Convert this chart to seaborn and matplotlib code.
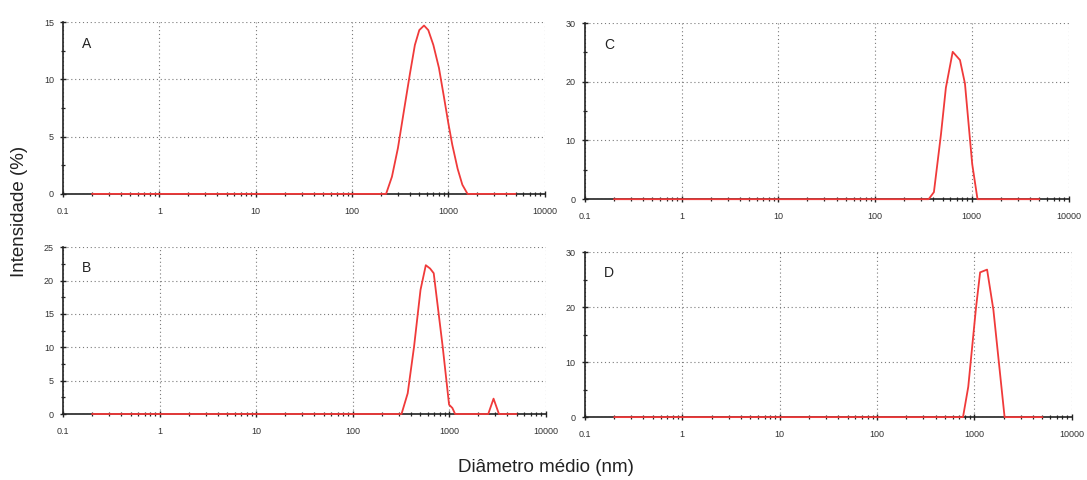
import numpy as np
import pandas as pd
import matplotlib
matplotlib.use("Agg")
import matplotlib.pyplot as plt
import matplotlib.ticker as mticker
import seaborn as sns

# ==========================
# Data
# ==========================

size_A = [0.2, 226, 260, 300, 350, 400, 450, 500, 560, 620, 700, 800, 900, 1000, 1100, 1250, 1400, 1585, 5000]
int_A = [0, 0, 1.5, 4.0, 7.5, 10.5, 13.0, 14.3, 14.7, 14.3, 13.0, 11.0, 8.5, 6.2, 4.3, 2.2, 0.8, 0, 0]

size_B = [0.2, 321, 372, 433, 505, 573, 635, 692, 857, 998, 1080, 1153, 2541, 2884, 3281, 5000]
int_B = [0, 0, 3.1, 10.1, 18.6, 22.3, 21.8, 21.1, 10.1, 1.4, 0.9, 0, 0, 2.3, 0, 0]

size_C = [0.2, 358, 406, 480, 540, 635, 755, 850, 1010, 1146, 5000]
int_C = [0, 0, 1.2, 11.0, 19.0, 25.1, 23.7, 19.7, 6.0, 0, 0]

size_D = [0.2, 764, 865, 1038, 1145, 1350, 1567, 2042, 5000]
int_D = [0, 0, 5.5, 19.8, 26.3, 26.8, 19.5, 0, 0]

panels = ["A", "B", "C", "D"]
y_max = {"A": 15, "B": 25, "C": 30, "D": 30}
y_step = {"A": 5, "B": 5, "C": 10, "D": 10}

x_ticks = [0.1, 1, 10, 100, 1000, 10000]
x_tick_labels = ["0.1", "1", "10", "100", "1000", "10000"]

frames = []
for name, xs, ys in [("A", size_A, int_A), ("B", size_B, int_B),
                     ("C", size_C, int_C), ("D", size_D, int_D)]:
    frames.append(pd.DataFrame({"panel": name, "size": xs, "intensity": ys}))
data = pd.concat(frames, ignore_index=True)

# ==========================
# Style
# ==========================

sns.set_style("white")
plt.rcParams["font.family"] = ["Liberation Sans", "DejaVu Sans"]

fig = plt.figure(figsize=(10.87, 4.8), dpi=100)

boxes = {
    "A": [0.058, 0.596, 0.443, 0.358],
    "C": [0.538, 0.585, 0.445, 0.367],
    "B": [0.058, 0.1375, 0.444, 0.3475],
    "D": [0.538, 0.131, 0.448, 0.344],
}

for name in panels:
    ax = fig.add_axes(boxes[name])
    sub = data[data["panel"] == name]

    ax.set_xscale("log")
    sns.lineplot(
        data=sub,
        x="size",
        y="intensity",
        ax=ax,
        color="#f03a3a",
        linewidth=1.3,
        sort=False,
        estimator=None,
        zorder=4,
        clip_on=False
    )

    ax.set_xlim(0.1, 10000)
    ax.set_ylim(0, y_max[name])

    ax.set_xticks(x_ticks)
    ax.set_xticklabels(x_tick_labels)
    ax.xaxis.set_minor_locator(mticker.LogLocator(base=10, subs=np.arange(2, 10)))
    ax.xaxis.set_minor_formatter(mticker.NullFormatter())

    ax.set_yticks(np.arange(0, y_max[name] + 1, y_step[name]))
    ax.yaxis.set_minor_locator(mticker.MultipleLocator(y_step[name] / 2))

    ax.tick_params(axis="both", which="both", bottom=True, left=True,
                   top=False, right=False)
    ax.tick_params(axis="both", which="major", direction="inout", length=5,
                   width=1, color="#222222", labelsize=6.5, labelcolor="#333333", pad=4)
    ax.tick_params(axis="x", which="major", pad=7)
    ax.tick_params(axis="both", which="minor", direction="inout", length=3.5,
                   width=0.9, color="#222222")

    for side in ["top", "right"]:
        ax.spines[side].set_visible(False)
    for side in ["left", "bottom"]:
        ax.spines[side].set_color("#222222")
        ax.spines[side].set_linewidth(1.2)

    ax.grid(True, which="major", color="#7a7a7a", linestyle=(0, (1, 2.5)), linewidth=0.8)
    ax.set_axisbelow(True)

    ax.set_xlabel("")
    ax.set_ylabel("")
    ax.text(0.04, 0.85, name, transform=ax.transAxes, fontsize=10, color="#222222")

fig.text(0.018, 0.56, "Intensidade (%)", rotation=90, fontsize=13.5,
         va="center", ha="center", color="#222222")
fig.text(0.502, 0.025, "Diâmetro médio (nm)", fontsize=13.5,
         va="center", ha="center", color="#222222")

plt.savefig("out.png", dpi=100)
plt.close()
